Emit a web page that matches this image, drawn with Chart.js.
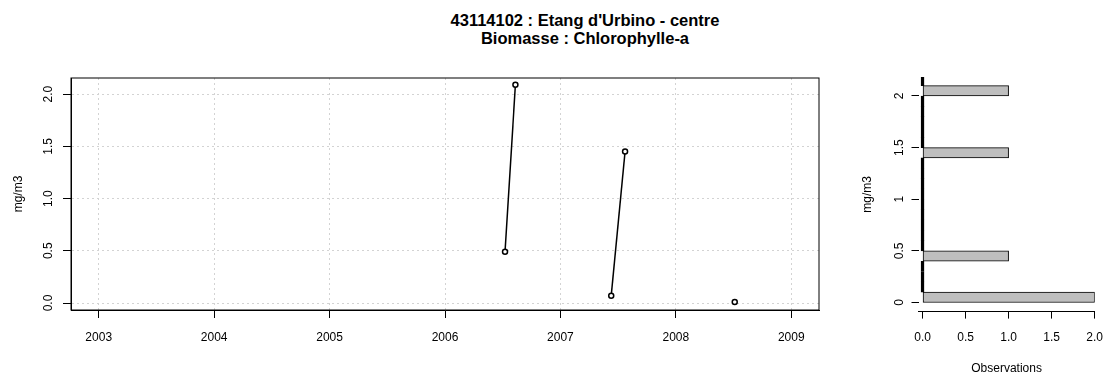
<!DOCTYPE html>
<html lang="fr">
  <head>
    <meta charset="UTF-8" />
    <title>43114102 : Etang d'Urbino - centre</title>
    <style>
      body {
        margin: 0;
        background: #fff;
      }
      #page {
        position: relative;
        width: 1115px;
        height: 376px;
        font-family: "Liberation Sans", Arial, sans-serif;
      }
      .titre {
        position: absolute;
        left: 385px;
        top: 12px;
        width: 400px;
        text-align: center;
        font-weight: bold;
        font-size: 16.5px;
        line-height: 17.5px;
      }
      .bloc {
        position: absolute;
        top: 0;
        height: 376px;
      }
    </style>
  </head>
  <body>
    <div id="page">
      <div class="titre">43114102 : Etang d'Urbino - centre<br />Biomasse : Chlorophylle-a</div>
      <div class="bloc" style="left: 0; width: 840px"><canvas id="serie"></canvas></div>
      <div class="bloc" style="left: 840px; width: 275px"><canvas id="histo"></canvas></div>
    </div>

    <script src="https://cdn.jsdelivr.net/npm/chart.js@4.4.0/dist/chart.umd.min.js"></script>
    <script>
      // prélèvements : date en année décimale, chlorophylle-a en mg/m3
      const datesPrel = [2006.52, 2006.61, 2007.44, 2007.56, 2008.51];
      const chloA = [0.49, 2.09, 0.07, 1.45, 0.01];
      const anneesTicks = [2003, 2004, 2005, 2006, 2007, 2008, 2009];
      const mgTicks = [0, 0.5, 1, 1.5, 2];

      // histogramme : classes de 0.1 mg/m3 (centre de classe) et nombre d'observations
      const classes = [
        0.05, 0.15, 0.25, 0.35, 0.45, 0.55, 0.65, 0.75, 0.85, 0.95, 1.05,
        1.15, 1.25, 1.35, 1.45, 1.55, 1.65, 1.75, 1.85, 1.95, 2.05, 2.15,
      ];
      const nbObs = [2, 0, 0, 0, 1, 0, 0, 0, 0, 0, 0, 0, 0, 0, 1, 0, 0, 0, 0, 0, 1, 0];
      const obsTicks = [0, 0.5, 1, 1.5, 2];

      Chart.defaults.font.family = "'Liberation Sans', Arial, sans-serif";
      Chart.defaults.font.size = 12;
      Chart.defaults.color = "#000";

      // un segment par année
      const parAnnee = {};
      datesPrel.forEach((d, i) => {
        const a = Math.floor(d);
        if (parAnnee[a] === undefined) {
          parAnnee[a] = [];
        }
        parAnnee[a].push({ x: d, y: chloA[i] });
      });
      const datasetsSerie = Object.keys(parAnnee).map((a) => ({
        label: a,
        data: parAnnee[a],
        borderColor: "#000",
        borderWidth: 1.5,
        pointRadius: 2.5,
        pointBorderWidth: 1.5,
        pointBorderColor: "#000",
        pointBackgroundColor: "#fff",
      }));

      // cadre autour de la zone de tracé
      const cadre = {
        id: "cadre",
        afterDraw(chart) {
          const { ctx, chartArea: a } = chart;
          ctx.save();
          ctx.strokeStyle = "#000";
          ctx.lineWidth = 1;
          ctx.strokeRect(a.left, a.top, a.right - a.left, a.bottom - a.top);
          ctx.restore();
        },
      };

      const tickMarks = {
        color: "#d3d3d3",
        tickColor: "#000",
        tickWidth: 1,
        tickBorderDash: [],
        tickLength: 8,
      };

      new Chart(document.getElementById("serie"), {
        type: "line",
        data: { datasets: datasetsSerie },
        plugins: [cadre],
        options: {
          maintainAspectRatio: false,
          animation: false,
          layout: { padding: { top: 78, right: 21, left: 0, bottom: 0 } },
          plugins: { legend: { display: false }, tooltip: { enabled: false } },
          scales: {
            x: {
              type: "linear",
              min: 2002.76,
              max: 2009.24,
              afterBuildTicks: (s) => {
                s.ticks = anneesTicks.map((v) => ({ value: v }));
              },
              afterFit: (s) => {
                s.height = 66;
              },
              grid: tickMarks,
              border: { color: "#000", width: 1, dash: [2, 3] },
              ticks: {
                padding: 12,
                maxRotation: 0,
                callback: (v) => String(v),
              },
            },
            y: {
              type: "linear",
              min: -0.067,
              max: 2.154,
              afterBuildTicks: (s) => {
                s.ticks = mgTicks.map((v) => ({ value: v }));
              },
              afterFit: (s) => {
                s.width = 71;
              },
              grid: tickMarks,
              border: { color: "#000", width: 1, dash: [2, 3] },
              ticks: {
                minRotation: 90,
                maxRotation: 90,
                crossAlign: "center",
                padding: 6,
                callback: (v) => v.toFixed(1),
              },
              title: { display: true, text: "mg/m3", padding: { top: 11.6 } },
            },
          },
        },
      });

      new Chart(document.getElementById("histo"), {
        type: "bar",
        data: {
          datasets: [
            {
              label: "Observations",
              data: classes.map((c, i) => ({ x: nbObs[i], y: c })),
              backgroundColor: (ctx) => (ctx.raw && ctx.raw.x === 0 ? "#000" : "#bebebe"),
              borderColor: "#000",
              borderWidth: 1,
              borderSkipped: false,
              minBarLength: 3,
              barPercentage: 1,
              categoryPercentage: 1,
            },
          ],
        },
        options: {
          indexAxis: "y",
          maintainAspectRatio: false,
          animation: false,
          layout: { padding: { top: 77, right: 12, left: 0, bottom: 0 } },
          plugins: { legend: { display: false }, tooltip: { enabled: false } },
          scales: {
            x: {
              type: "linear",
              min: -0.047,
              max: 2,
              afterBuildTicks: (s) => {
                s.ticks = obsTicks.map((v) => ({ value: v }));
              },
              afterFit: (s) => {
                s.height = 64.4;
              },
              grid: { drawOnChartArea: false, tickColor: "#000", tickLength: 7 },
              border: { color: "#000", width: 1 },
              ticks: { padding: 12, maxRotation: 0, callback: (v) => v.toFixed(1) },
              title: { display: true, text: "Observations", padding: { bottom: 0.5 } },
            },
            y: {
              type: "linear",
              offset: false,
              min: -0.088,
              max: 2.184,
              afterBuildTicks: (s) => {
                s.ticks = mgTicks.map((v) => ({ value: v }));
              },
              afterFit: (s) => {
                s.width = 78.5;
              },
              grid: { offset: false, drawOnChartArea: false, tickColor: "#000", tickLength: 7 },
              border: { display: false },
              ticks: {
                minRotation: 90,
                maxRotation: 90,
                crossAlign: "center",
                padding: 3,
                callback: (v) => String(v),
              },
              title: { display: true, text: "mg/m3", padding: { top: 20.8 } },
            },
          },
        },
      });
    </script>
  </body>
</html>
